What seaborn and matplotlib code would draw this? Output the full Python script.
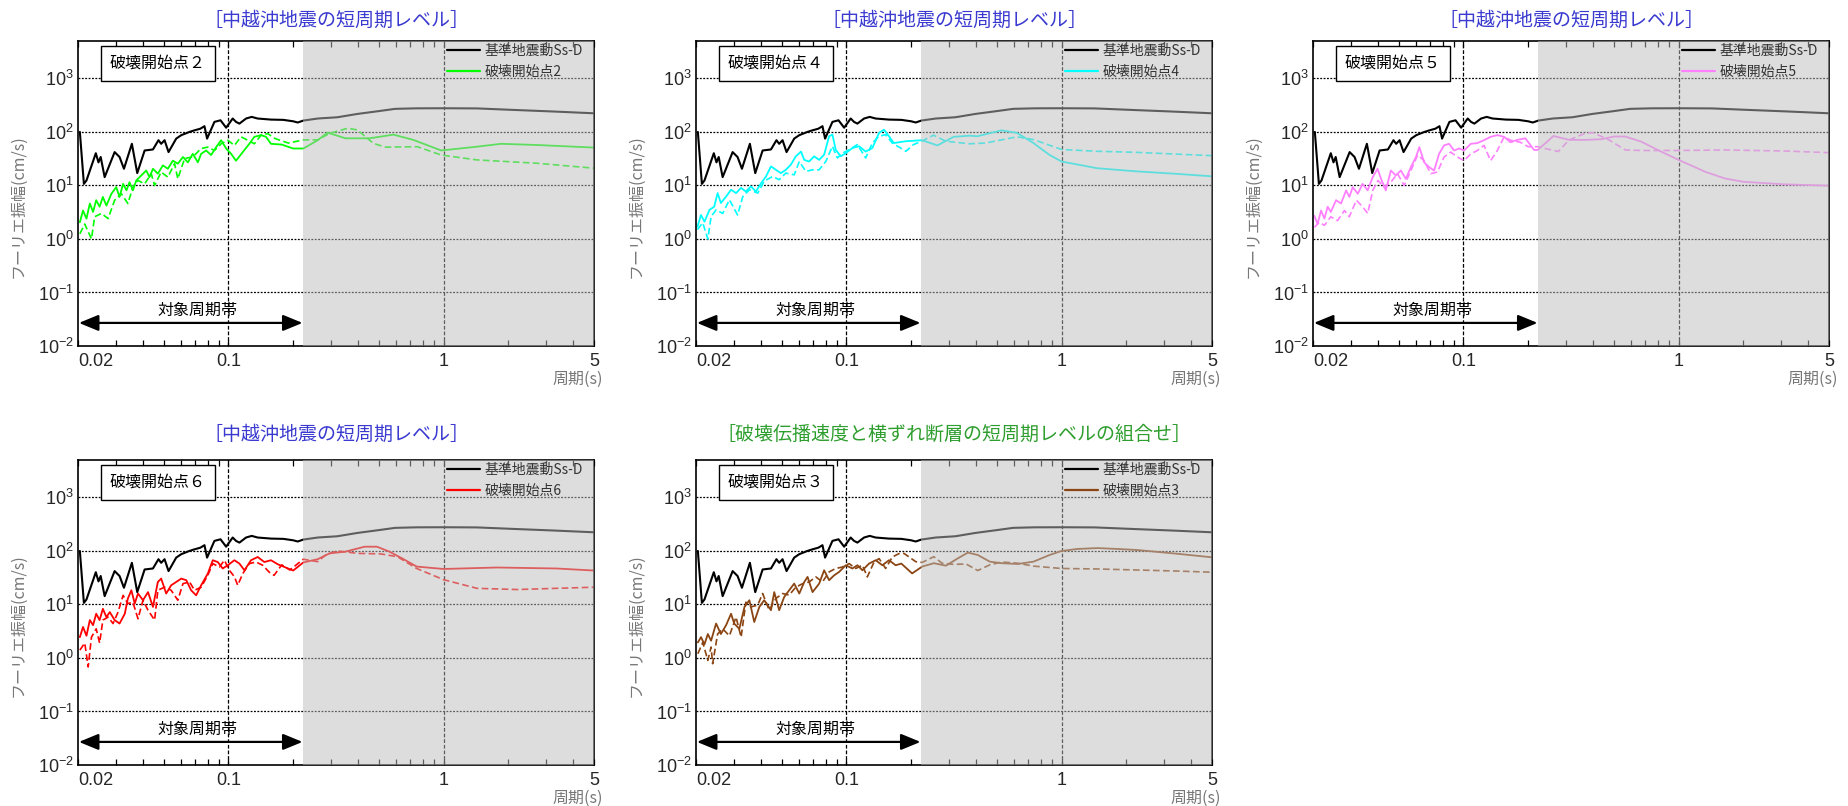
import matplotlib
matplotlib.use("Agg")
import matplotlib.pyplot as plt
from matplotlib.lines import Line2D
from matplotlib.ticker import FixedLocator, FixedFormatter, NullFormatter
import seaborn as sns
import pandas as pd

# ---- data (period [s], Fourier amplitude [cm/s]) ----
# reference motion Ss-D (same in every panel)
ssd_T = [0.0204, 0.0213, 0.0219, 0.0242, 0.0249, 0.0255, 0.0266, 0.0296, 0.0312, 0.0327,
         0.0356, 0.0377, 0.0408, 0.0446, 0.0473, 0.0487, 0.0505, 0.0527, 0.0572, 0.0604,
         0.0659, 0.0695, 0.0741, 0.0774, 0.0796, 0.0861, 0.0919, 0.0976, 0.1047, 0.1085,
         0.1125, 0.1208, 0.1283, 0.1367, 0.1578, 0.18, 0.2, 0.21, 0.223, 0.26,
         0.321, 0.398, 0.5, 0.596, 0.75, 1.0, 1.43, 2.1, 3.3, 5.0]
ssd_A = [100, 10.7, 12.4, 40, 27, 34, 14.3, 42, 34, 20.5,
         60, 17, 45, 47, 70, 60, 70, 42, 75, 87,
         100, 107, 115, 128, 75, 154, 165, 120, 178, 154,
         143, 178, 191, 178, 170, 168, 158, 150, 163, 178,
         188, 217, 245, 270, 276, 277, 275, 258, 240, 223]

# 破壊開始点2 (green)
g_sol_T = [0.0204, 0.0211, 0.0219, 0.0227, 0.0235, 0.0243, 0.0252, 0.0261, 0.0271, 0.0286,
           0.0301, 0.0312, 0.0324, 0.0336, 0.0347, 0.036, 0.0373, 0.0394, 0.0415, 0.043,
           0.0446, 0.047, 0.0496, 0.0523, 0.0552, 0.0582, 0.0615, 0.0648, 0.0683, 0.0721,
           0.0747, 0.0788, 0.0831, 0.0877, 0.0925, 0.0976, 0.1029, 0.1085, 0.1166, 0.1251,
           0.132, 0.1418, 0.1495, 0.1577, 0.177, 0.2, 0.223, 0.26, 0.289, 0.35,
           0.453, 0.585, 0.723, 0.975, 1.43, 1.85, 2.71, 5.0]
g_sol_A = [2.05, 3.4, 2.4, 4.6, 3.2, 5.3, 4.0, 6.1, 4.2, 7.0,
           9.3, 6.1, 10.7, 8.1, 11.5, 8.1, 12.4, 15.4, 19, 14.3,
           20.5, 16.6, 23.7, 20.5, 29, 25.5, 34, 27, 39, 27,
           39, 45, 37, 52, 70, 49, 39, 29, 42, 60,
           81, 87, 81, 60, 58, 49, 49, 70, 97, 76,
           76, 89, 71, 45, 53, 60, 57, 51]
g_dash_T = [0.0204, 0.0215, 0.0231, 0.0239, 0.0257, 0.0276, 0.0296, 0.0318, 0.0341, 0.036,
            0.038, 0.0408, 0.0438, 0.0454, 0.0487, 0.0523, 0.0562, 0.0582, 0.0626, 0.0683,
            0.0747, 0.0802, 0.0861, 0.0925, 0.0993, 0.1066, 0.1145, 0.1229, 0.132, 0.1418,
            0.1522, 0.165, 0.19, 0.223, 0.26, 0.295, 0.358, 0.398, 0.472, 0.537,
            0.755, 0.975, 1.43, 2.71, 5.0]
g_dash_A = [1.25, 1.9, 1.0, 2.6, 3.0, 2.4, 5.3, 7.0, 4.6, 9.3,
            12.4, 10.7, 16.6, 10, 17.8, 14.3, 25.5, 13.3, 32, 34,
            49, 52, 45, 60, 70, 56, 81, 70, 60, 87,
            93, 75, 62, 71, 71, 94, 117, 109, 61, 52,
            53, 37, 30, 26, 21]

# 破壊開始点4 (cyan)
c_sol_T = [0.0203, 0.0211, 0.0219, 0.0231, 0.0243, 0.0252, 0.0261, 0.0276, 0.0291, 0.0307,
           0.0324, 0.0341, 0.036, 0.038, 0.0401, 0.0423, 0.0446, 0.047, 0.0496, 0.0523,
           0.0552, 0.0582, 0.0615, 0.0637, 0.0671, 0.0708, 0.0747, 0.0788, 0.0831, 0.0861,
           0.0892, 0.0941, 0.0993, 0.1066, 0.1145, 0.1229, 0.132, 0.1418, 0.1495, 0.1577,
           0.166, 0.189, 0.224, 0.265, 0.315, 0.373, 0.406, 0.525, 0.62, 0.74,
           0.875, 1.0, 1.46, 2.2, 3.4, 5.0]
c_sol_A = [1.7, 2.8, 2.1, 3.5, 4.0, 7.2, 4.7, 6.2, 8.3, 7.2,
           9, 7.7, 9.6, 7.7, 11, 14.7, 22.7, 19.6, 17, 19.6,
           24.5, 35, 43, 30, 28, 35, 30, 37.6, 83, 89,
           46.6, 35, 40, 50, 54, 43, 50, 96, 110, 83,
           62, 67, 70, 56, 81, 85, 83, 107, 96, 62,
           37.6, 28, 21, 18.4, 16.5, 14.8]
c_dash_T = [0.0203, 0.0215, 0.0227, 0.0235, 0.0248, 0.0266, 0.0286, 0.0312, 0.033, 0.0354,
            0.0387, 0.0415, 0.0454, 0.0487, 0.0523, 0.0572, 0.0604, 0.0648, 0.0696, 0.0747,
            0.0802, 0.0861, 0.0908, 0.0958, 0.1029, 0.1125, 0.1229, 0.132, 0.1418, 0.1522,
            0.1634, 0.173, 0.189, 0.205, 0.224, 0.254, 0.29, 0.373, 0.443, 0.62,
            0.74, 1.0, 1.46, 2.2, 5.0]
c_dash_A = [1.5, 2.0, 1.0, 2.6, 3.5, 3.0, 5.4, 2.8, 6.2, 8.3,
            7.2, 12, 14.7, 12.8, 17, 15.8, 28, 18.3, 19.6, 19.6,
            28, 54, 32.6, 40, 46.6, 58, 32.6, 62, 83, 89,
            62, 54, 43.5, 58, 67, 87, 67, 60, 62, 81,
            72, 47, 43.5, 41.6, 36]

# 破壊開始点5 (pink)
m_sol_T = [0.0203, 0.021, 0.0218, 0.0226, 0.0234, 0.0242, 0.0256, 0.027, 0.0285, 0.0295,
           0.0306, 0.0323, 0.034, 0.0359, 0.0379, 0.0399, 0.0414, 0.0436, 0.046, 0.0485,
           0.0512, 0.054, 0.057, 0.0602, 0.0624, 0.0657, 0.0693, 0.0731, 0.0771, 0.0813,
           0.0858, 0.0905, 0.0955, 0.1007, 0.1082, 0.1162, 0.1247, 0.1338, 0.1438, 0.1545,
           0.1656, 0.178, 0.194, 0.213, 0.221, 0.24, 0.262, 0.31, 0.368, 0.437,
           0.5, 0.565, 0.67, 0.8, 1.0, 1.33, 1.64, 2.0, 3.1, 5.0]
m_sol_A = [2.7, 1.9, 3.4, 2.4, 4.0, 3.2, 5.3, 4.6, 8.1, 6.1,
           9.3, 7.0, 10.7, 8.1, 14.3, 20.5, 13.3, 8.1, 19, 15.4,
           19, 13.3, 22, 34, 52, 27, 22, 19, 39, 56,
           60, 45, 49, 45, 60, 62, 70, 81, 87, 81,
           64, 71, 76, 46, 46, 61, 84, 71, 71, 73,
           82, 82, 66, 46, 30, 18, 13.5, 11.7, 10.5, 9.9]
m_dash_T = [0.0203, 0.0214, 0.0226, 0.0242, 0.026, 0.028, 0.0295, 0.0318, 0.034, 0.0359,
            0.0379, 0.0401, 0.0428, 0.046, 0.0494, 0.0531, 0.057, 0.0613, 0.0657, 0.0705,
            0.0757, 0.0813, 0.0873, 0.0938, 0.1007, 0.1082, 0.1162, 0.1247, 0.1338, 0.1438,
            0.1545, 0.1656, 0.184, 0.2, 0.221, 0.24, 0.276, 0.31, 0.368, 0.4,
            0.475, 0.565, 0.67, 1.0, 1.64, 3.1, 5.0]
m_dash_A = [1.65, 2.05, 1.8, 2.6, 2.2, 3.4, 2.6, 5.3, 4.0, 3.0,
            8.1, 12.4, 9.3, 11.5, 16.6, 10, 19, 37, 29, 16.6,
            17.8, 34, 42, 34, 29, 39, 45, 56, 29, 45,
            81, 70, 64, 53, 53, 49, 43, 71, 94, 97,
            71, 46, 45, 45, 46, 44, 41]

# 破壊開始点6 (red)
r_sol_T = [0.0204, 0.0211, 0.0219, 0.0227, 0.0235, 0.0243, 0.0252, 0.0261, 0.0271, 0.0281,
           0.0296, 0.0312, 0.033, 0.0341, 0.0354, 0.0367, 0.038, 0.0401, 0.0423, 0.0446,
           0.047, 0.0487, 0.0514, 0.0542, 0.0572, 0.0604, 0.0637, 0.0671, 0.0708, 0.0747,
           0.0802, 0.0846, 0.0892, 0.0941, 0.0993, 0.1066, 0.1125, 0.1187, 0.1274, 0.1368,
           0.1469, 0.1577, 0.17, 0.2, 0.223, 0.26, 0.295, 0.35, 0.43, 0.49,
           0.56, 0.64, 0.75, 1.0, 1.77, 3.34, 5.0]
r_sol_A = [2.45, 3.8, 2.6, 5.1, 4.1, 6.7, 5.1, 8.3, 5.8, 7.2,
           5.1, 4.4, 6.7, 12.9, 18.4, 10.4, 16, 12, 17, 9,
           26.3, 30.4, 16, 22.8, 26.3, 30.4, 28.4, 18.4, 14.8, 22.8,
           37.7, 67, 62, 47, 54, 67, 58, 43.5, 67, 77,
           62, 67, 56, 43, 61, 70, 90, 97, 120, 120,
           97, 73, 51, 46, 49, 47, 43]
r_dash_T = [0.0204, 0.0215, 0.0223, 0.0231, 0.0243, 0.0252, 0.0261, 0.0276, 0.0291, 0.0307,
            0.0324, 0.0341, 0.036, 0.038, 0.0401, 0.0423, 0.0454, 0.047, 0.0505, 0.0542,
            0.0582, 0.0615, 0.066, 0.0696, 0.0747, 0.0802, 0.0846, 0.0908, 0.0958, 0.101,
            0.1066, 0.1105, 0.1166, 0.1251, 0.1344, 0.1443, 0.1549, 0.163, 0.177, 0.193,
            0.223, 0.26, 0.283, 0.32, 0.4, 0.51, 0.61, 0.75, 1.0, 1.43,
            2.2, 3.34, 5.0]
r_dash_A = [1.4, 1.9, 0.68, 2.45, 3.5, 1.9, 5.1, 5.8, 4.4, 7.2,
            14.8, 10.4, 11, 5.4, 12, 7.8, 5.1, 18.4, 21, 18.4,
            12, 24.5, 26.3, 18.4, 21, 35, 58, 50, 67, 43.5,
            33, 22.8, 37.7, 58, 62, 54, 40, 35, 55, 44,
            70, 63, 84, 100, 90, 88, 78, 47, 29, 20,
            19, 20, 21]

# 破壊開始点3 (brown)
b_sol_T = [0.0204, 0.0211, 0.0219, 0.0227, 0.0235, 0.0248, 0.0261, 0.0276, 0.0291, 0.0301,
           0.0318, 0.0336, 0.0354, 0.0373, 0.0394, 0.0415, 0.0446, 0.0462, 0.0487, 0.0514,
           0.0542, 0.0572, 0.0604, 0.0637, 0.066, 0.0696, 0.0747, 0.0788, 0.0831, 0.0877,
           0.0925, 0.0993, 0.1066, 0.1125, 0.1187, 0.1274, 0.1368, 0.1469, 0.1577, 0.1694,
           0.18, 0.202, 0.225, 0.255, 0.29, 0.33, 0.367, 0.408, 0.464, 0.527,
           0.625, 0.74, 0.88, 1.0, 1.19, 1.47, 1.8, 2.25, 3.5, 5.0]
b_sol_A = [1.95, 2.45, 1.8, 2.8, 2.1, 4.4, 2.8, 4.1, 6.7, 4.4,
           3.5, 9, 12, 4.7, 9, 12, 7.8, 17, 7.8, 13.8,
           18.4, 24.5, 16, 26.3, 32.7, 17, 24.5, 43.5, 28.4, 35,
           40.5, 54, 47, 54, 43.5, 58, 67, 54, 67, 54,
           58, 38, 51, 59, 53, 73, 93, 84, 63, 59,
           57, 63, 84, 100, 109, 113, 109, 104, 88, 76]
b_dash_T = [0.0204, 0.0215, 0.0227, 0.0235, 0.0239, 0.0252, 0.0266, 0.0286, 0.0307, 0.0324,
            0.0341, 0.036, 0.0387, 0.0408, 0.0438, 0.047, 0.0505, 0.0542, 0.0582, 0.0626,
            0.0671, 0.0721, 0.0774, 0.0831, 0.0892, 0.0958, 0.1029, 0.1105, 0.1187, 0.1251,
            0.1344, 0.1418, 0.1522, 0.1634, 0.1755, 0.185, 0.21, 0.225, 0.255, 0.278,
            0.316, 0.36, 0.408, 0.464, 0.527, 0.625, 0.74, 1.0, 1.47, 2.25,
            3.5, 5.0]
b_dash_A = [1.2, 1.95, 0.9, 1.6, 0.78, 2.8, 3.5, 2.6, 5.8, 2.45,
            11, 9, 9.7, 16, 7.8, 12.9, 16, 15, 21, 24.5,
            26.3, 32.7, 26.3, 40.5, 47, 50, 58, 47, 54, 32.7,
            62, 72, 47, 77, 89, 90, 63, 61, 78, 59,
            56, 57, 43, 55, 62, 59, 52, 47, 46, 44,
            42, 40]

title_a = "［中越沖地震の短周期レベル］"
title_b = "［破壊伝播速度と横ずれ断層の短周期レベルの組合せ］"
blue = "#3a3ad0"
green = "#2e9e2e"

x_major = [0.02, 0.1, 1, 5]
x_major_lbl = ["0.02", "0.1", "1", "5"]
x_minor = [0.03, 0.04, 0.05, 0.06, 0.07, 0.08, 0.09,
           0.2, 0.3, 0.4, 0.5, 0.6, 0.7, 0.8, 0.9, 2, 3, 4]
y_major = [0.01, 0.1, 1, 10, 100, 1000]
y_major_lbl = [r"$\mathrm{10^{-2}}$", r"$\mathrm{10^{-1}}$", r"$\mathrm{10^{0}}$",
               r"$\mathrm{10^{1}}$", r"$\mathrm{10^{2}}$", r"$\mathrm{10^{3}}$"]

panels = [
    # row, col, start no. (box, legend), colour, solid, dashed, title, title colour
    (0, 0, ("２", "2"), "#00ff00", (g_sol_T, g_sol_A), (g_dash_T, g_dash_A), title_a, blue),
    (0, 1, ("４", "4"), "#00ffff", (c_sol_T, c_sol_A), (c_dash_T, c_dash_A), title_a, blue),
    (0, 2, ("５", "5"), "#ff80ff", (m_sol_T, m_sol_A), (m_dash_T, m_dash_A), title_a, blue),
    (1, 0, ("６", "6"), "#ff0000", (r_sol_T, r_sol_A), (r_dash_T, r_dash_A), title_a, blue),
    (1, 1, ("３", "3"), "#8b4513", (b_sol_T, b_sol_A), (b_dash_T, b_dash_A), title_b, green),
]

sns.set_theme(style="white")
plt.rcParams["font.family"] = ["Noto Sans CJK JP", "DejaVu Sans"]
plt.rcParams["mathtext.fontset"] = "custom"
plt.rcParams["mathtext.rm"] = "Liberation Sans"
plt.rcParams["mathtext.it"] = "Liberation Sans:italic"
plt.rcParams["mathtext.bf"] = "Liberation Sans:bold"

fig = plt.figure(figsize=(18.48, 8.06), dpi=100)
fig.patch.set_facecolor("white")

W, H = 1848, 806
col_left = [78, 696, 1313]
row_top = [41, 460]
ax_w, ax_h = 516, 305
title_gap = [21, 26]

for row, col, num, color, sol, dash, title, tcol in panels:
    left = col_left[col] / W
    bottom = 1 - (row_top[row] + ax_h) / H
    ax = fig.add_axes([left, bottom, ax_w / W, ax_h / H])

    ax.set_xscale("log")
    ax.set_yscale("log")

    d_dash = pd.DataFrame({"T": dash[0], "A": dash[1]})
    d_sol = pd.DataFrame({"T": sol[0], "A": sol[1]})
    d_ssd = pd.DataFrame({"T": ssd_T, "A": ssd_A})
    sns.lineplot(data=d_dash, x="T", y="A", ax=ax, color=color, lw=1.2,
                 linestyle=(0, (4, 2)), estimator=None, sort=False, zorder=2)
    sns.lineplot(data=d_sol, x="T", y="A", ax=ax, color=color, lw=1.3,
                 estimator=None, sort=False, zorder=2.1)
    sns.lineplot(data=d_ssd, x="T", y="A", ax=ax, color="black", lw=1.5,
                 estimator=None, sort=False, zorder=2.2)

    ax.set_xlim(0.02, 5)
    ax.set_ylim(0.01, 5000)

    # grid lines
    for yv in [0.1, 1, 10, 100, 1000]:
        ax.axhline(yv, color="black", lw=0.9, ls=(0, (1.5, 1.2)), zorder=1)
    for xv in [0.1, 1]:
        ax.axvline(xv, color="black", lw=0.9, ls=(0, (3, 1.5)), zorder=1)

    # outside the target band
    ax.axvspan(0.222, 5, facecolor="#bdbdbd", alpha=0.5, lw=0, zorder=3)

    # ticks
    ax.xaxis.set_major_locator(FixedLocator(x_major))
    ax.xaxis.set_major_formatter(FixedFormatter(x_major_lbl))
    ax.xaxis.set_minor_locator(FixedLocator(x_minor))
    ax.xaxis.set_minor_formatter(NullFormatter())
    ax.yaxis.set_major_locator(FixedLocator(y_major))
    ax.yaxis.set_major_formatter(FixedFormatter(y_major_lbl))
    ax.yaxis.set_minor_locator(FixedLocator([]))
    ax.tick_params(axis="x", which="both", direction="in", top=True, bottom=True,
                   length=4, width=0.9, color="black", labelsize=13, pad=5)
    ax.tick_params(axis="y", which="both", length=0, labelsize=13, pad=3)
    for lbl in ax.get_xticklabels():
        lbl.set_fontfamily("Liberation Sans")
    ax.get_xticklabels()[0].set_horizontalalignment("left")

    for sp in ax.spines.values():
        sp.set_color("black")
        sp.set_linewidth(1.2)

    ax.set_xlabel("")
    ax.set_ylabel("フーリエ振幅(cm/s)", color="#777777", fontsize=11.5)
    ax.yaxis.set_label_coords(-0.099, 0.46)
    ax.text(1.018, -0.108, "周期(s)", transform=ax.transAxes, ha="right",
            va="center", color="#777777", fontsize=11.5)

    # target period band arrow
    ax.annotate("", xy=(0.0202, 0.027), xytext=(0.221, 0.027),
                arrowprops=dict(arrowstyle="<|-|>,head_length=0.85,head_width=0.35",
                                color="black", lw=1.6, shrinkA=0, shrinkB=0,
                                mutation_scale=14), zorder=4)
    ax.text(0.072, 0.047, "対象周期帯", ha="center", va="center", fontsize=11.5,
            color="black", zorder=4)

    ax.text(0.155, 0.926, "破壊開始点" + num[0], transform=ax.transAxes, ha="center",
            va="center", fontsize=11.5, color="black", zorder=5,
            bbox=dict(boxstyle="square,pad=0.55", fc="white", ec="black", lw=1.0))

    handles = [Line2D([0], [0], color="black", lw=1.6),
               Line2D([0], [0], color=color, lw=1.6)]
    leg = ax.legend(handles, ["基準地震動Ss-D", "破壊開始点" + num[1]], loc="upper left",
                    bbox_to_anchor=(0.715, 0.99), frameon=False, fontsize=10,
                    handlelength=2.4, handletextpad=0.3, labelspacing=0.5,
                    borderpad=0, borderaxespad=0)
    leg.set_zorder(6)
    for t in leg.get_texts():
        t.set_color("#333333")

    ax.text(0.5, 1 + title_gap[row] / ax_h, title, transform=ax.transAxes,
            ha="center", va="center", fontsize=13.7, color=tcol)

fig.savefig("out.png", dpi=100, facecolor="white")
